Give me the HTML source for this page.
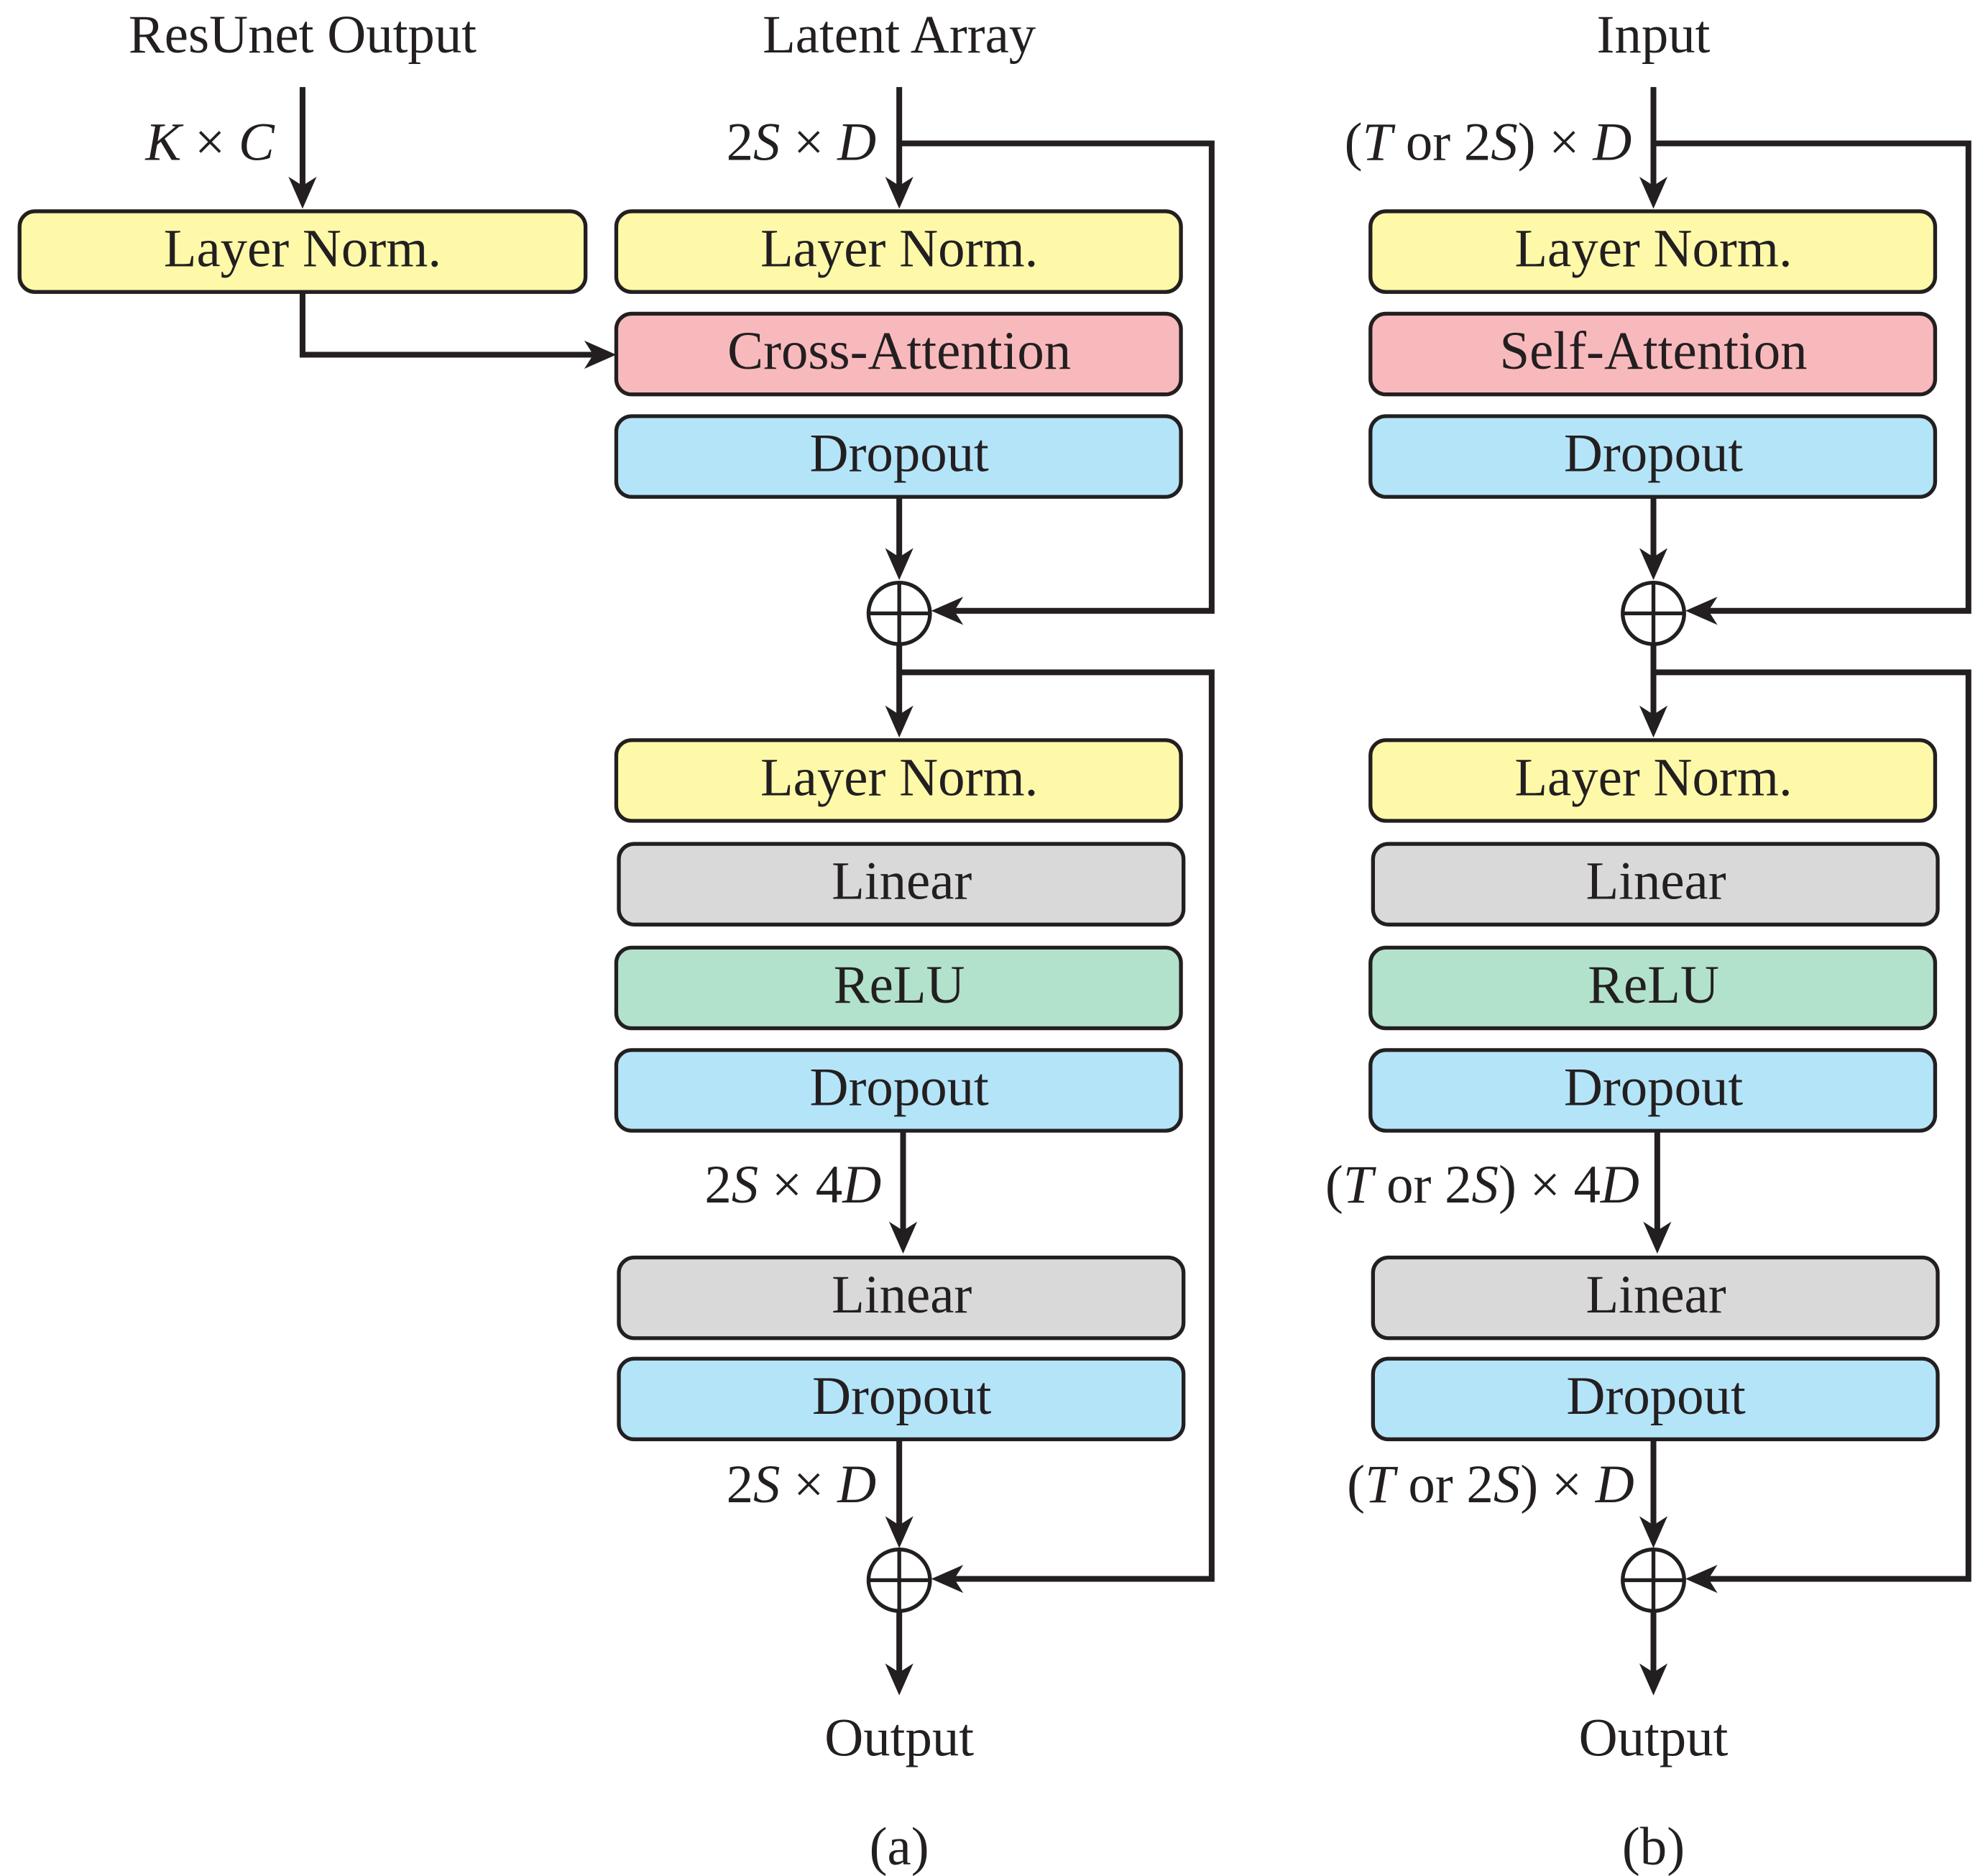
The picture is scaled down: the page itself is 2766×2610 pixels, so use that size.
<!DOCTYPE html>
<html><head><meta charset="utf-8"><style>html,body{margin:0;padding:0;background:#fff}svg{display:block}</style></head>
<body>
<svg width="2766" height="2610" viewBox="0 0 1552 1465" xmlns="http://www.w3.org/2000/svg" font-family="Liberation Serif, serif" font-size="42" fill="#231f20">
<g stroke="#231f20" stroke-width="3" >
<rect x="15" y="165" width="442" height="63" rx="12" fill="#fdf9a9"/>
<rect x="481" y="165" width="441" height="63" rx="12" fill="#fdf9a9"/>
<rect x="481" y="245" width="441" height="63" rx="12" fill="#f8b9bd"/>
<rect x="481" y="325" width="441" height="63" rx="12" fill="#b4e4f8"/>
<rect x="481" y="578" width="441" height="63" rx="12" fill="#fdf9a9"/>
<rect x="483" y="659" width="441" height="63" rx="12" fill="#d9d9d9"/>
<rect x="481" y="740" width="441" height="63" rx="12" fill="#b2e2cb"/>
<rect x="481" y="820" width="441" height="63" rx="12" fill="#b4e4f8"/>
<rect x="483" y="982" width="441" height="63" rx="12" fill="#d9d9d9"/>
<rect x="483" y="1061" width="441" height="63" rx="12" fill="#b4e4f8"/>
<rect x="1070" y="165" width="441" height="63" rx="12" fill="#fdf9a9"/>
<rect x="1070" y="245" width="441" height="63" rx="12" fill="#f8b9bd"/>
<rect x="1070" y="325" width="441" height="63" rx="12" fill="#b4e4f8"/>
<rect x="1070" y="578" width="441" height="63" rx="12" fill="#fdf9a9"/>
<rect x="1072" y="659" width="441" height="63" rx="12" fill="#d9d9d9"/>
<rect x="1070" y="740" width="441" height="63" rx="12" fill="#b2e2cb"/>
<rect x="1070" y="820" width="441" height="63" rx="12" fill="#b4e4f8"/>
<rect x="1072" y="982" width="441" height="63" rx="12" fill="#d9d9d9"/>
<rect x="1072" y="1061" width="441" height="63" rx="12" fill="#b4e4f8"/>
</g>
<g stroke="#231f20" stroke-width="4.5" fill="none">
<path d="M236 68V150"/>
<path d="M236 228V277H465"/>
<path d="M702 68V150"/>
<path d="M702 112H946V477H742"/>
<path d="M702 388V438"/>
<path d="M702 503V562"/>
<path d="M702 525H946V1233H742"/>
<path d="M705 883V963"/>
<path d="M702 1124V1194"/>
<path d="M702 1258V1308"/>
<circle cx="702" cy="479" r="24" stroke-width="3"/>
<path d="M678 479H726M702 455V503" stroke-width="3"/>
<circle cx="702" cy="1234" r="24" stroke-width="3"/>
<path d="M678 1234H726M702 1210V1258" stroke-width="3"/>
<path d="M1291 68V150"/>
<path d="M1291 112H1537V477H1331"/>
<path d="M1291 388V438"/>
<path d="M1291 503V562"/>
<path d="M1291 525H1537V1233H1331"/>
<path d="M1294 883V963"/>
<path d="M1291 1124V1194"/>
<path d="M1291 1258V1308"/>
<circle cx="1291" cy="479" r="24" stroke-width="3"/>
<path d="M1267 479H1315M1291 455V503" stroke-width="3"/>
<circle cx="1291" cy="1234" r="24" stroke-width="3"/>
<path d="M1267 1234H1315M1291 1210V1258" stroke-width="3"/>
</g>
<g fill="#231f20">
<path d="M225 138L236 163L247 138L236 145Z"/>
<path d="M691 138L702 163L713 138L702 145Z"/>
<path d="M691 428L702 453L713 428L702 435Z"/>
<path d="M691 551L702 576L713 551L702 558Z"/>
<path d="M694 954L705 979L716 954L705 961Z"/>
<path d="M691 1184L702 1209L713 1184L702 1191Z"/>
<path d="M691 1299L702 1324L713 1299L702 1306Z"/>
<path d="M1280 138L1291 163L1302 138L1291 145Z"/>
<path d="M1280 428L1291 453L1302 428L1291 435Z"/>
<path d="M1280 551L1291 576L1302 551L1291 558Z"/>
<path d="M1283 954L1294 979L1305 954L1294 961Z"/>
<path d="M1280 1184L1291 1209L1302 1184L1291 1191Z"/>
<path d="M1280 1299L1291 1324L1302 1299L1291 1306Z"/>
<path d="M456 266L481 277L456 288L463 277Z"/>
<path d="M752 466L727 477L752 488L745 477Z"/>
<path d="M752 1222L727 1233L752 1244L745 1233Z"/>
<path d="M1341 466L1316 477L1341 488L1334 477Z"/>
<path d="M1341 1222L1316 1233L1341 1244L1334 1233Z"/>
</g>
<g text-anchor="middle">
<text x="236" y="41">ResUnet Output</text>
<text x="702" y="41">Latent Array</text>
<text x="1291" y="41">Input</text>
<text x="236" y="208">Layer Norm.</text>
<text x="702" y="208">Layer Norm.</text>
<text x="702" y="288">Cross-Attention</text>
<text x="702" y="368">Dropout</text>
<text x="702" y="621">Layer Norm.</text>
<text x="704" y="702">Linear</text>
<text x="702" y="783">ReLU</text>
<text x="702" y="863">Dropout</text>
<text x="704" y="1025">Linear</text>
<text x="704" y="1104">Dropout</text>
<text x="702" y="1371">Output</text>
<text x="702" y="1456">(a)</text>
<text x="1291" y="208">Layer Norm.</text>
<text x="1291" y="288">Self-Attention</text>
<text x="1291" y="368">Dropout</text>
<text x="1291" y="621">Layer Norm.</text>
<text x="1293" y="702">Linear</text>
<text x="1291" y="783">ReLU</text>
<text x="1291" y="863">Dropout</text>
<text x="1293" y="1025">Linear</text>
<text x="1293" y="1104">Dropout</text>
<text x="1291" y="1371">Output</text>
<text x="1291" y="1456">(b)</text>
</g>
<g text-anchor="end">
<text x="214" y="125"><tspan font-style="italic">K</tspan> × <tspan font-style="italic">C</tspan></text>
<text x="684" y="125">2<tspan font-style="italic">S</tspan> × <tspan font-style="italic">D</tspan></text>
<text x="688" y="939">2<tspan font-style="italic">S</tspan> × 4<tspan font-style="italic">D</tspan></text>
<text x="684" y="1173">2<tspan font-style="italic">S</tspan> × <tspan font-style="italic">D</tspan></text>
<text x="1274" y="125">(<tspan font-style="italic">T</tspan> or 2<tspan font-style="italic">S</tspan>) × <tspan font-style="italic">D</tspan></text>
<text x="1280" y="939">(<tspan font-style="italic">T</tspan> or 2<tspan font-style="italic">S</tspan>) × 4<tspan font-style="italic">D</tspan></text>
<text x="1276" y="1173">(<tspan font-style="italic">T</tspan> or 2<tspan font-style="italic">S</tspan>) × <tspan font-style="italic">D</tspan></text>
</g>
</svg>
</body></html>
